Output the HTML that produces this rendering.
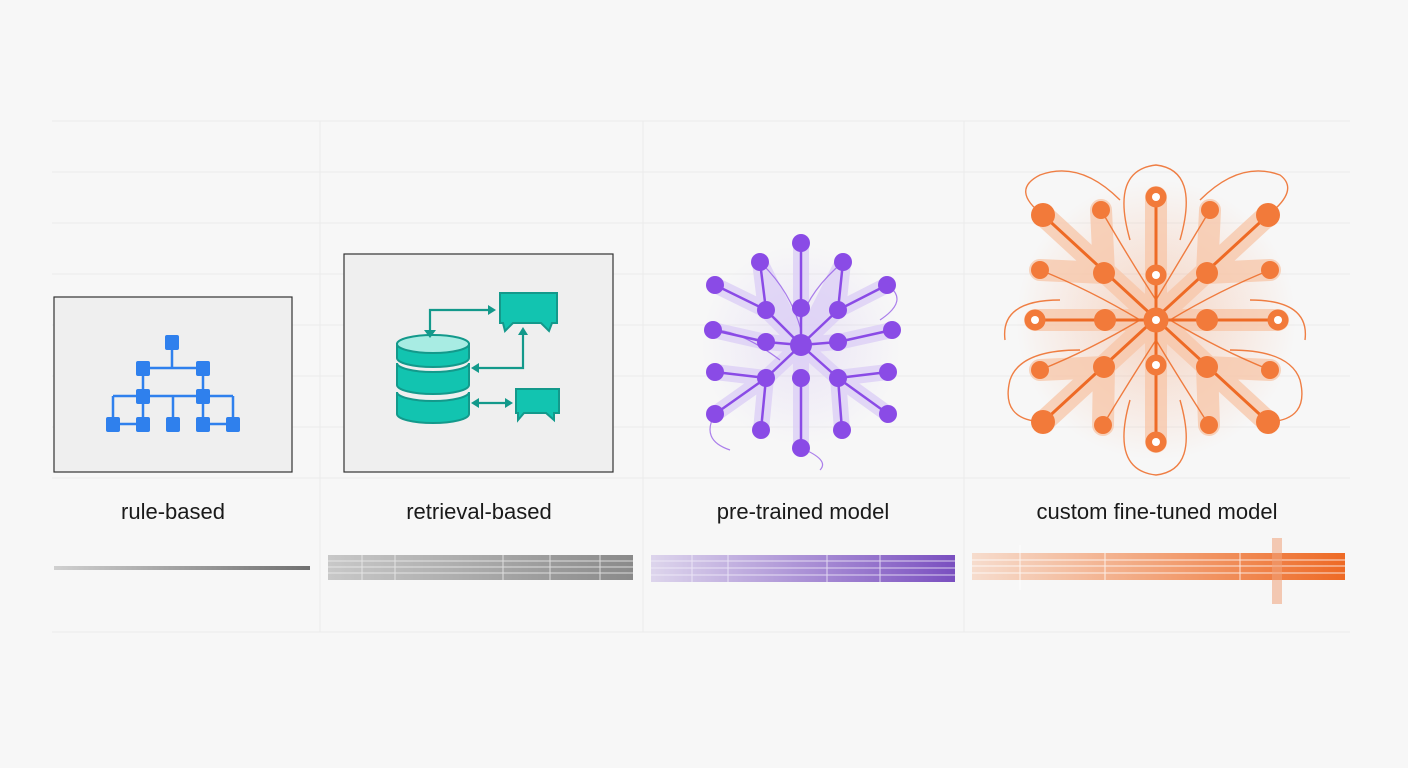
<!DOCTYPE html>
<html><head><style>
body{margin:0;background:#f7f7f7;}
svg{display:block}
text{font-family:"Liberation Sans",sans-serif;font-size:22px;fill:#1a1a1a;text-anchor:middle}
</style></head><body>
<svg width="1408" height="768" viewBox="0 0 1408 768">
<defs>
<linearGradient id="g1" x1="0" x2="1"><stop offset="0" stop-color="#d0d0d0"/><stop offset="1" stop-color="#707070"/></linearGradient>
<linearGradient id="g2" x1="0" x2="1"><stop offset="0" stop-color="#c8c8c8"/><stop offset="1" stop-color="#8a8a8a"/></linearGradient>
<linearGradient id="g3" x1="0" x2="1"><stop offset="0" stop-color="#ddd5ec"/><stop offset="1" stop-color="#7a4fc0"/></linearGradient>
<linearGradient id="g4" x1="0" x2="1"><stop offset="0" stop-color="#f6dccd"/><stop offset="1" stop-color="#ee6a25"/></linearGradient>
<radialGradient id="og"><stop offset="0" stop-color="#f47a3a" stop-opacity=".7"/><stop offset="1" stop-color="#f47a3a" stop-opacity="0"/></radialGradient>
<radialGradient id="pg"><stop offset="0" stop-color="#9b6df0" stop-opacity=".35"/><stop offset="1" stop-color="#9b6df0" stop-opacity="0"/></radialGradient>
</defs>
<g stroke="#ebebeb" stroke-width="1">
<line x1="52" y1="121" x2="1350" y2="121"/><line x1="52" y1="172" x2="1350" y2="172"/>
<line x1="52" y1="223" x2="1350" y2="223"/><line x1="52" y1="274" x2="1350" y2="274"/>
<line x1="52" y1="325" x2="1350" y2="325"/><line x1="52" y1="376" x2="1350" y2="376"/>
<line x1="52" y1="427" x2="1350" y2="427"/><line x1="52" y1="478" x2="1350" y2="478"/>
<line x1="52" y1="632" x2="1350" y2="632"/>
<line x1="320" y1="121" x2="320" y2="632"/><line x1="643" y1="121" x2="643" y2="632"/><line x1="964" y1="121" x2="964" y2="632"/>
</g>
<!-- rule-based -->
<rect x="54" y="297" width="238" height="175" fill="#efefef" stroke="#333" stroke-width="1.2"/>
<g stroke="#2f80ed" stroke-width="2.5" fill="none">
<path d="M172 342V368M143 368H203M143 368V424M203 368V424M113 396H233M113 396V424M173 396V424M233 396V424M113 424H143M203 424H233"/>
</g>
<g fill="#2f80ed">
<rect x="165" y="335" width="14" height="15" rx="2"/>
<rect x="136" y="361" width="14" height="15" rx="2"/><rect x="196" y="361" width="14" height="15" rx="2"/>
<rect x="136" y="389" width="14" height="15" rx="2"/><rect x="196" y="389" width="14" height="15" rx="2"/>
<rect x="106" y="417" width="14" height="15" rx="2"/><rect x="136" y="417" width="14" height="15" rx="2"/><rect x="166" y="417" width="14" height="15" rx="2"/><rect x="196" y="417" width="14" height="15" rx="2"/><rect x="226" y="417" width="14" height="15" rx="2"/>
</g>
<rect x="54" y="566" width="256" height="4" fill="url(#g1)"/>
<text x="173" y="519">rule-based</text>
<!-- retrieval -->
<rect x="344" y="254" width="269" height="218" fill="#efefef" stroke="#333" stroke-width="1.2"/>
<g fill="#12c4b0" stroke="#13998b" stroke-width="2">
<path d="M397 392v22a36 9 0 0 0 72 0v-22a36 9 0 0 1-72 0z"/>
<path d="M397 363v22a36 9 0 0 0 72 0v-22a36 9 0 0 1-72 0z"/>
<path d="M397 344v14a36 9 0 0 0 72 0v-14z"/>
<ellipse cx="433" cy="344" rx="36" ry="9" fill="#a8ece3"/>
<path d="M500 293h57v30h-5l-3 8-8-8h-28l-8 8-2-8h-3z"/>
<path d="M516 389h43v24h-5v7l-8-7h-22l-6 7v-7h-2z"/>
</g>
<g stroke="#13998b" stroke-width="2.2" fill="none">
<path d="M430 332V310H490M474 368H523V333M476 403H508"/>
</g>
<g fill="#13998b">
<path d="M424 330h12l-6 8z"/><path d="M488 305l8 5-8 5z"/><path d="M471 368l8-5v10z"/><path d="M518 335l5-8 5 8z"/><path d="M471 403l8-5v10z"/><path d="M513 403l-8-5v10z"/>
</g>
<g>
<rect x="328" y="555" width="305" height="25" fill="url(#g2)"/>
<g stroke="#eee" stroke-width="1" opacity=".8"><line x1="328" y1="561" x2="633" y2="561"/><line x1="328" y1="567" x2="633" y2="567"/><line x1="328" y1="573" x2="633" y2="573"/><line x1="362" y1="555" x2="362" y2="580"/><line x1="395" y1="555" x2="395" y2="580"/><line x1="503" y1="555" x2="503" y2="580"/><line x1="550" y1="555" x2="550" y2="580"/><line x1="600" y1="555" x2="600" y2="580"/></g>
</g>
<text x="479" y="519">retrieval-based</text>
<!-- pre-trained -->
<circle cx="801" cy="345" r="100" fill="url(#pg)" opacity=".4"/>
<g stroke="#ddd0f6" stroke-width="16" stroke-linecap="round" opacity=".8">
<path d="M801 345L801 243M801 345L760 262M760 262L766 310M801 345L843 262M843 262L838 310M766 310L715 285M838 310L887 285M766 342L713 330M838 342L892 330M766 378L715 372M838 378L888 372M766 378L715 414M838 378L888 414M766 378L761 430M838 378L842 430M801 345L801 448M801 345L766 310M801 345L838 310M801 345L766 342M801 345L838 342M801 345L766 378M801 345L838 378"/>
</g>
<g stroke="#8a4be6" stroke-width="2.5" fill="none">
<path d="M801 345L801 243M760 262L766 310M843 262L838 310M766 310L715 285M838 310L887 285M766 342L713 330M838 342L892 330M766 378L715 372M838 378L888 372M766 378L715 414M838 378L888 414M766 378L761 430M838 378L842 430M801 378L801 448M801 345L766 310M801 345L838 310M801 345L766 342M801 345L838 342M801 345L766 378M801 345L838 378"/>
<path d="M760 262Q790 290 801 330M843 262Q810 290 801 320M887 285Q910 300 880 320M713 330Q740 330 780 360M715 414Q700 440 730 450M801 448Q830 460 820 470" stroke-width="1.2" opacity=".7"/>
</g>
<g fill="#8a4be6">
<circle cx="801" cy="345" r="11"/>
<circle cx="801" cy="243" r="9"/><circle cx="760" cy="262" r="9"/><circle cx="843" cy="262" r="9"/><circle cx="715" cy="285" r="9"/><circle cx="887" cy="285" r="9"/><circle cx="766" cy="310" r="9"/><circle cx="801" cy="308" r="9"/><circle cx="838" cy="310" r="9"/><circle cx="713" cy="330" r="9"/><circle cx="892" cy="330" r="9"/><circle cx="766" cy="342" r="9"/><circle cx="838" cy="342" r="9"/><circle cx="715" cy="372" r="9"/><circle cx="888" cy="372" r="9"/><circle cx="766" cy="378" r="9"/><circle cx="801" cy="378" r="9"/><circle cx="838" cy="378" r="9"/><circle cx="715" cy="414" r="9"/><circle cx="888" cy="414" r="9"/><circle cx="761" cy="430" r="9"/><circle cx="842" cy="430" r="9"/><circle cx="801" cy="448" r="9"/>
</g>
<rect x="651" y="555" width="304" height="27" fill="url(#g3)"/>
<g stroke="#f2eefa" stroke-width="1" opacity=".8"><line x1="651" y1="561" x2="955" y2="561"/><line x1="651" y1="568" x2="955" y2="568"/><line x1="651" y1="575" x2="955" y2="575"/><line x1="692" y1="555" x2="692" y2="582"/><line x1="728" y1="555" x2="728" y2="582"/><line x1="827" y1="555" x2="827" y2="582"/><line x1="880" y1="555" x2="880" y2="582"/></g>
<text x="803" y="519">pre-trained model</text>
<!-- custom -->
<circle cx="1156" cy="320" r="140" fill="url(#og)" opacity=".4"/>
<g stroke="#f8c6a8" stroke-width="22" stroke-linecap="round" opacity=".75">
<path d="M1156 197V442M1035 320H1278M1043 215L1268 422M1268 215L1043 422M1040 270L1104 273M1270 270L1207 273M1040 370L1104 367M1270 370L1207 367M1101 210L1104 273M1210 210L1207 273M1103 425L1104 367M1209 425L1207 367"/>
</g>
<g stroke="#ee6a25" stroke-width="3" fill="none">
<path d="M1156 197V442M1035 320H1278M1043 215L1268 422M1268 215L1043 422"/>
</g>
<g stroke="#ee6a25" stroke-width="1.4" fill="none" opacity=".85">
<path d="M1101 210Q1130 260 1156 300M1210 210Q1180 260 1156 300M1040 270Q1090 290 1140 320M1270 270Q1220 290 1170 320M1040 370Q1090 350 1140 320M1270 370Q1220 350 1170 320M1103 425Q1130 380 1156 340M1209 425Q1180 380 1156 340"/>
<path d="M1130 240Q1110 170 1156 165Q1200 170 1180 240M1043 215Q1010 190 1040 175Q1080 160 1120 200M1268 215Q1300 190 1280 175Q1240 160 1200 200M1005 340Q1000 300 1060 300M1305 340Q1310 300 1250 300M1043 422Q1000 420 1010 380Q1020 350 1080 350M1268 422Q1310 420 1300 380Q1290 350 1230 350M1130 400Q1110 470 1156 475Q1200 470 1180 400"/>
</g>
<g fill="#f27a3a">
<circle cx="1043" cy="215" r="12"/><circle cx="1268" cy="215" r="12"/><circle cx="1043" cy="422" r="12"/><circle cx="1268" cy="422" r="12"/>
<circle cx="1101" cy="210" r="9"/><circle cx="1210" cy="210" r="9"/><circle cx="1040" cy="270" r="9"/><circle cx="1270" cy="270" r="9"/><circle cx="1040" cy="370" r="9"/><circle cx="1270" cy="370" r="9"/><circle cx="1103" cy="425" r="9"/><circle cx="1209" cy="425" r="9"/>
<circle cx="1104" cy="273" r="11"/><circle cx="1207" cy="273" r="11"/><circle cx="1104" cy="367" r="11"/><circle cx="1207" cy="367" r="11"/><circle cx="1105" cy="320" r="11"/><circle cx="1207" cy="320" r="11"/>
</g>
<g fill="#f27a3a" stroke="#f27a3a">
<circle cx="1156" cy="197" r="10"/><circle cx="1156" cy="442" r="10"/><circle cx="1035" cy="320" r="10"/><circle cx="1278" cy="320" r="10"/><circle cx="1156" cy="275" r="10"/><circle cx="1156" cy="365" r="10"/><circle cx="1156" cy="320" r="12"/>
</g>
<g fill="#fff">
<circle cx="1156" cy="197" r="4"/><circle cx="1156" cy="442" r="4"/><circle cx="1035" cy="320" r="4"/><circle cx="1278" cy="320" r="4"/><circle cx="1156" cy="275" r="4"/><circle cx="1156" cy="365" r="4"/><circle cx="1156" cy="320" r="4"/>
</g>
<rect x="972" y="553" width="373" height="27" fill="url(#g4)"/>
<g stroke="#fff" stroke-width="1" opacity=".8"><line x1="972" y1="560" x2="1345" y2="560"/><line x1="972" y1="566" x2="1345" y2="566"/><line x1="972" y1="573" x2="1345" y2="573"/><line x1="1020" y1="545" x2="1020" y2="590"/><line x1="1105" y1="553" x2="1105" y2="580"/><line x1="1240" y1="553" x2="1240" y2="580"/></g>
<rect x="1272" y="538" width="10" height="66" fill="#f0a27a" opacity=".55"/>
<text x="1157" y="519">custom fine-tuned model</text>
</svg>
</body></html>
